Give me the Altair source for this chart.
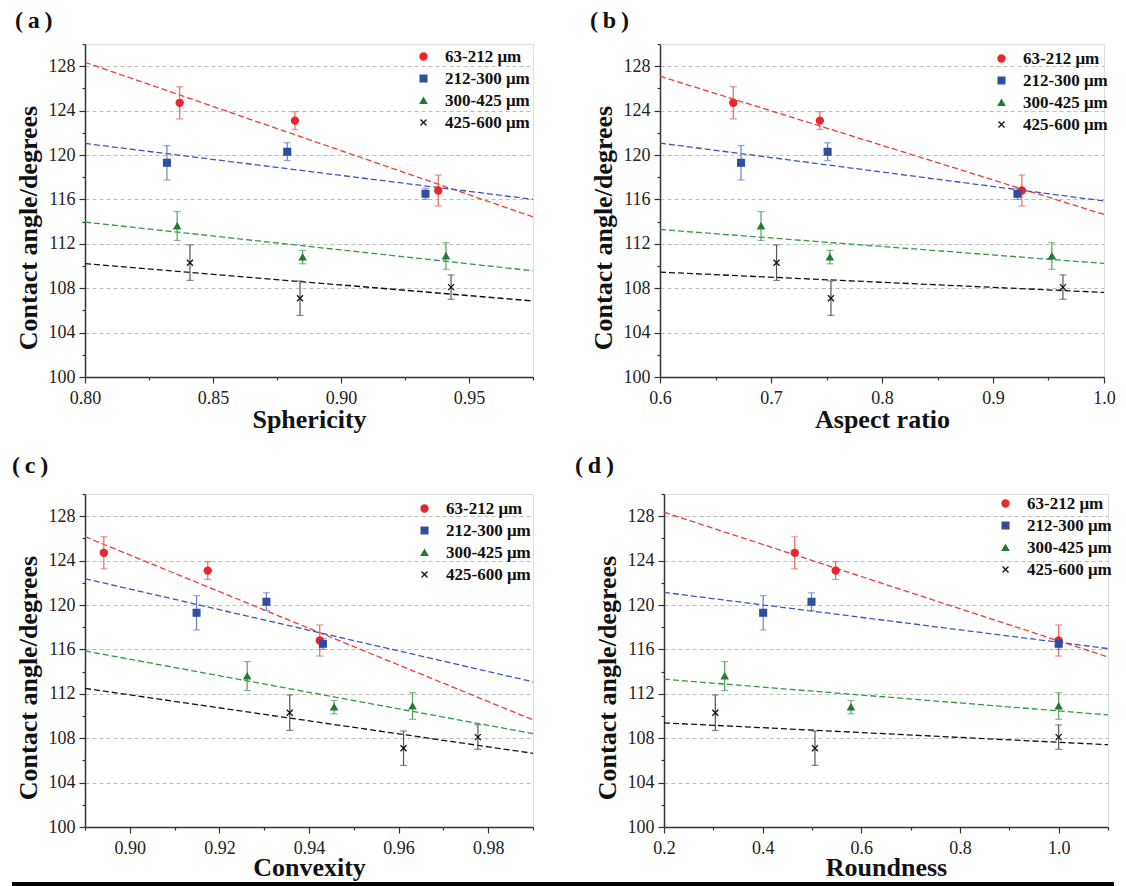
import json
import altair as alt
import pandas as pd

# ---------------- data ----------------
series = ["63-212 μm", "212-300 μm", "300-425 μm", "425-600 μm"]

angle = [
    [124.7, 123.1, 116.8],
    [119.3, 120.3, 116.5],
    [113.6, 110.8, 110.9],
    [110.3, 107.1, 108.1],
]
error = [
    [1.45, 0.8, 1.4],
    [1.55, 0.8, 0.5],
    [1.3, 0.6, 1.2],
    [1.6, 1.55, 1.1],
]
sphericity = [
    [0.837, 0.882, 0.938],
    [0.832, 0.879, 0.933],
    [0.836, 0.885, 0.941],
    [0.841, 0.884, 0.943],
]
aspect_ratio = [
    [0.666, 0.744, 0.926],
    [0.673, 0.751, 0.922],
    [0.691, 0.753, 0.953],
    [0.705, 0.754, 0.963],
]
convexity = [
    [0.8942, 0.9174, 0.9424],
    [0.9149, 0.9305, 0.9431],
    [0.9262, 0.9456, 0.9631],
    [0.9357, 0.9611, 0.9777],
]
roundness = [
    [0.465, 0.548, 1.0],
    [0.401, 0.499, 1.0],
    [0.323, 0.579, 1.0],
    [0.304, 0.506, 1.0],
]

y_major = [100, 104, 108, 112, 116, 120, 124, 128]
y_minor = [102, 106, 110, 114, 118, 122, 126, 130]
sph_major = [0.80, 0.85, 0.90, 0.95]
sph_minor = [0.825, 0.875, 0.925, 0.975]
ar_major = [0.6, 0.7, 0.8, 0.9, 1.0]
ar_minor = [0.65, 0.75, 0.85, 0.95]
cvx_major = [0.90, 0.92, 0.94, 0.96, 0.98]
cvx_minor = [0.89, 0.91, 0.93, 0.95, 0.97, 0.99]
rnd_major = [0.2, 0.4, 0.6, 0.8, 1.0]
rnd_minor = [0.3, 0.5, 0.7, 0.9, 1.1]

# ---------------- style ----------------
SERIF = "Liberation Serif"
LABEL_FONT = "'Liberation Serif', 'Times New Roman', 'DejaVu Serif', serif"
H = 333
fill_cols = ["#e8262b", "#2e4d9f", "#1f7d32", "transparent"]
stroke_cols = ["#e8262b", "#2e4d9f", "#1f7d32", "#111111"]
line_cols = ["#ef3b3b", "#3b55c0", "#2f9a3f", "#111111"]
err_cols = ["#ef6464", "#6d7fc8", "#55a05e", "#555555"]
shapes = ["circle", "square", "triangle-up", "M-1,-1L1,1M-1,1L1,-1"]
sizes = [50, 36, 56, 72]


def is_major(major):
    return f"indexof({json.dumps(major)}, datum.value) >= 0"


def cond(test, a, b):
    return {"condition": {"test": test, "value": a}, "value": b}


def panel(xvals, tag, xtitle, xdomain, major, minor, fmt, W, legend_x, legend_y,
          title_offset, xtitle_y, bar=None):
    rows = []
    for i, s in enumerate(series):
        for j in range(len(angle[i])):
            rows.append({
                "series": s,
                "x": xvals[i][j],
                "y": angle[i][j],
                "lo": angle[i][j] - error[i][j],
                "hi": angle[i][j] + error[i][j],
            })
    df = pd.DataFrame(rows)
    base = alt.Chart(df)

    xaxis = alt.Axis(
        values=major + minor, format=fmt,
        labelExpr=f"{is_major(major)} ? datum.label : ''",
        tickSize=cond(is_major(major), 6, 3),
        grid=False, labelFlush=False, labelOverlap=False,
        labelPadding=6, labelFontSize=18, labelFont=LABEL_FONT, labelColor="#222",
        domainColor="#333", domainWidth=1.5, tickColor="#333", tickWidth=1.2,
        titleFont=SERIF, titleFontSize=26, titleFontWeight="bold", titleColor="#111",
        titleX=W / 2, titleY=xtitle_y, titleAlign="center", titleBaseline="alphabetic",
    )
    yaxis = alt.Axis(
        values=y_major + y_minor, format="d",
        labelExpr=f"{is_major(y_major)} ? datum.label : ''",
        tickSize=cond(is_major(y_major), 6, 3),
        grid=True, gridOpacity=cond(is_major(y_major[1:]), 1, 0),
        gridColor="#bdbdbd", gridDash=[4, 3], gridWidth=1,
        labelFlush=False, labelOverlap=False,
        labelPadding=4, labelFontSize=18, labelFont=LABEL_FONT, labelColor="#222",
        domainColor="#333", domainWidth=1.5, tickColor="#333", tickWidth=1.2,
        titleFont=SERIF, titleFontSize=26, titleFontWeight="bold", titleColor="#111",
        titleX=-49, titleY=H / 2 + 17, titleAngle=270, titleAlign="center",
        titleBaseline="alphabetic",
    )
    xs = alt.Scale(domain=xdomain, nice=False, zero=False)
    ys = alt.Scale(domain=[100, 130], nice=False, zero=False)
    ytitle = "Contact angle/degrees"

    def X():
        return alt.X("x:Q", scale=xs, axis=xaxis, title=xtitle)

    def Y(field):
        return alt.Y(f"{field}:Q", scale=ys, axis=yaxis, title=ytitle)

    lines = base.transform_regression(
        "x", "y", groupby=["series"], extent=xdomain
    ).mark_line(strokeDash=[6, 3], strokeWidth=1.3).encode(
        x=X(), y=Y("y"),
        color=alt.Color("series:N", scale=alt.Scale(domain=series, range=line_cols), legend=None),
    )
    rules = base.mark_rule(strokeWidth=1.2).encode(
        x=X(), y=Y("lo"), y2="hi:Q",
        color=alt.Color("series:N", scale=alt.Scale(domain=series, range=err_cols), legend=None),
    )
    caps = base.transform_fold(["lo", "hi"], as_=["end", "yv"]).mark_tick(
        orient="horizontal", size=7, thickness=1.2
    ).encode(
        x=X(), y=Y("yv"),
        color=alt.Color("series:N", scale=alt.Scale(domain=series, range=err_cols), legend=None),
    )
    legend = alt.Legend(
        title=None, orient="none", legendX=legend_x, legendY=legend_y,
        labelFont=SERIF, labelFontWeight="bold", labelFontSize=17, labelColor="#111",
        rowPadding=4, labelOffset=13, padding=0,
        symbolStrokeWidth=1.3, symbolOpacity=1,
    )
    points = base.mark_point(opacity=1, strokeWidth=1.3).encode(
        x=X(), y=Y("y"),
        fill=alt.Fill("series:N", scale=alt.Scale(domain=series, range=fill_cols), legend=legend),
        stroke=alt.Stroke("series:N", scale=alt.Scale(domain=series, range=stroke_cols), legend=legend),
        shape=alt.Shape("series:N", scale=alt.Scale(domain=series, range=shapes), legend=legend),
        size=alt.Size("series:N", scale=alt.Scale(domain=series, range=sizes), legend=legend),
    )
    layers = [lines, rules, caps, points]
    if bar is not None:
        # black rule that closes the figure at the bottom edge
        layers.append(
            alt.Chart(pd.DataFrame({"k": [0]})).mark_rect(color="black").encode(
                x=alt.value(bar[0]), x2=alt.value(bar[1]),
                y=alt.value(H + 55), y2=alt.value(H + 65),
            )
        )
    return alt.layer(*layers).resolve_scale(
        color="independent"
    ).properties(
        width=W, height=H,
        title=alt.TitleParams(
            text=tag, anchor="start", frame="bounds", font=SERIF, fontSize=24,
            fontWeight="bold", color="#111", offset=title_offset,
        ),
    )


WL, WR = 448, 444
pa = panel(sphericity, "(\u2009a\u2009)", "Sphericity", [0.80, 0.975], sph_major, sph_minor,
           ".2f", WL, 330, 4, 2, 50)
pb = panel(aspect_ratio, "(\u2009b\u2009)", "Aspect ratio", [0.6, 1.0], ar_major, ar_minor,
           ".1f", WR, 333, 6, 2, 50)
pc = panel(convexity, "(\u2009c\u2009)", "Convexity", [0.89, 0.99], cvx_major, cvx_minor,
           ".2f", WL, 331, 6, 7.5, 48, bar=(-73, WL + 46))
pd_ = panel(roundness, "(\u2009d\u2009)", "Roundness", [0.2, 1.1], rnd_major, rnd_minor,
            ".1f", WR, 333, 1, 7.5, 48, bar=(-89, WR + 6))

indep = dict(fill="independent", stroke="independent", shape="independent",
             size="independent", color="independent")

row1 = alt.hconcat(pa, pb, spacing=52).resolve_scale(**indep)
row2 = alt.hconcat(pc, pd_, spacing=-6).resolve_scale(**indep)
chart = alt.vconcat(row1, row2, spacing=20).resolve_scale(**indep).properties(
    padding={"left": 3, "top": 0, "right": 0, "bottom": 0}
).configure_view(stroke=None).configure(
    background="white", font=SERIF
).configure_axis(labelFont=LABEL_FONT)

chart.save("out.html", embed_options={"renderer": "svg", "actions": False})
